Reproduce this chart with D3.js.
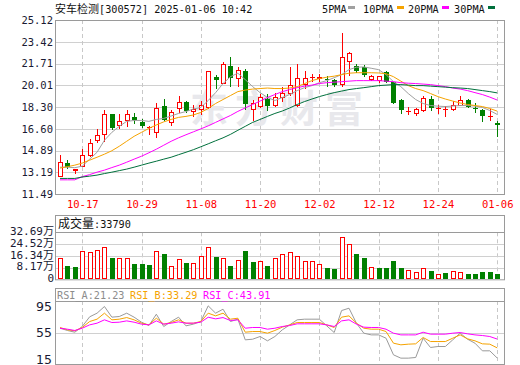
<!DOCTYPE html>
<html><head><meta charset="utf-8">
<script src="https://cdn.jsdelivr.net/npm/d3@7/dist/d3.min.js"></script>
<style>body{margin:0;background:#fff}svg{display:block}</style>
</head><body><svg id="c" width="520" height="365"></svg>
<script>
const dates = ["10-14","10-15","10-16","10-17","10-18","10-21","10-22","10-23","10-24","10-25","10-28","10-29","10-30","10-31",
"11-01","11-04","11-05","11-06","11-07","11-08","11-11","11-12","11-13","11-14","11-15","11-18","11-19","11-20","11-21","11-22","11-25","11-26","11-27","11-28","11-29",
"12-02","12-03","12-04","12-05","12-06","12-09","12-10","12-11","12-12","12-13","12-16","12-17","12-18","12-19","12-20","12-23","12-24","12-25","12-26","12-27","12-30","12-31",
"01-02","01-03","01-06"];
const openP  = [12.92,13.91,13.38,13.69,14.53,15.72,16.22,17.72,16.92,17.28,17.54,17.15,16.72,16.34,18.42,17.15,18.24,18.68,17.98,18.17,18.29,20.66,20.19,21.54,20.58,21.09,18.11,18.37,18.94,18.50,19.07,19.41,18.50,20.11,20.63,20.60,20.52,20.45,20.11,21.93,21.48,21.45,20.50,20.45,21.02,20.24,18.89,17.96,17.80,18.06,18.94,18.22,18.15,18.11,18.45,18.89,18.24,18.06,17.60,17.04];
const highP  = [14.53,14.16,13.46,15.00,15.77,16.55,18.06,17.75,17.72,18.06,17.80,17.35,16.81,18.63,18.94,18.06,19.15,18.81,18.50,18.76,21.10,20.84,21.80,22.26,21.41,21.28,18.89,19.30,19.30,19.41,19.85,21.44,21.67,21.09,20.89,20.89,20.70,20.50,24.08,22.60,21.67,21.60,20.85,20.71,21.15,20.30,18.90,18.32,18.24,19.15,19.15,18.50,18.37,18.76,19.15,18.90,18.58,18.17,18.11,17.20];
const lowP   = [12.90,13.49,13.13,13.65,14.50,15.60,15.64,16.61,16.69,16.81,17.08,16.73,16.22,15.98,17.30,16.86,17.90,17.90,17.59,17.72,18.20,19.80,20.15,19.93,19.93,18.11,17.25,18.30,18.10,18.37,18.81,19.28,18.37,19.80,20.37,20.32,19.93,19.93,19.98,20.84,21.05,20.70,20.40,20.24,20.24,18.58,17.80,17.72,17.67,17.98,18.06,17.80,17.59,18.06,18.45,18.30,17.93,17.20,17.28,16.03];
const closeP = [13.96,13.65,13.44,14.53,15.52,16.09,17.72,16.76,17.18,17.78,17.33,16.89,16.76,18.24,17.33,17.90,18.68,18.06,18.17,18.48,21.09,20.50,21.67,20.66,21.17,18.63,18.58,19.10,18.50,19.10,19.41,20.00,20.58,20.58,20.66,20.63,20.48,20.11,22.22,22.53,21.23,20.90,20.76,20.71,20.37,18.68,18.11,17.98,18.17,19.02,18.32,18.24,18.17,18.50,18.89,18.37,18.19,17.64,17.62,17.00];

const ma5  = [13.59,13.59,13.55,13.67,14.22,14.76,15.70,16.32,16.79,17.18,17.25,17.25,17.18,17.33,17.41,17.60,17.80,17.95,18.15,18.27,18.81,19.43,20.14,20.68,20.95,20.45,19.90,19.43,19.05,18.81,19.05,19.28,19.59,19.82,19.98,20.21,20.37,20.60,20.84,21.23,21.42,21.44,21.34,21.23,20.84,20.29,19.90,19.36,18.89,18.58,18.42,18.37,18.34,18.38,18.42,18.42,18.38,18.27,18.03,17.72];
const ma10 = [13.52,13.63,13.75,13.91,14.14,14.37,14.61,14.88,15.23,15.62,16.01,16.32,16.63,16.90,17.14,17.33,17.49,17.57,17.68,17.88,18.19,18.58,18.89,19.20,19.51,19.63,19.71,19.75,19.79,19.75,19.75,19.79,19.90,20.14,20.37,20.53,20.64,20.72,20.84,20.95,20.99,20.99,20.99,20.97,20.91,20.68,20.33,19.98,19.75,19.59,19.36,19.12,18.93,18.77,18.62,18.50,18.42,18.34,18.19,17.98];
const ma20 = [12.60,12.60,12.60,12.85,13.01,13.20,13.36,13.56,13.75,13.98,14.22,14.45,14.72,15.00,15.31,15.62,15.89,16.13,16.36,16.59,16.83,17.10,17.37,17.64,17.96,18.23,18.50,18.77,19.05,19.28,19.51,19.67,19.82,19.94,20.02,20.14,20.21,20.25,20.29,20.33,20.37,20.37,20.37,20.37,20.33,20.29,20.21,20.17,20.14,20.10,20.06,19.98,19.90,19.79,19.71,19.59,19.43,19.28,19.08,18.85];
const ma30 = [12.71,12.71,12.71,12.82,12.89,12.97,13.09,13.20,13.32,13.44,13.59,13.75,13.91,14.06,14.22,14.37,14.57,14.76,14.96,15.19,15.42,15.66,15.89,16.16,16.48,16.79,17.10,17.33,17.57,17.80,17.99,18.23,18.50,18.73,18.93,19.12,19.28,19.43,19.55,19.67,19.75,19.82,19.90,19.98,20.02,20.06,20.06,20.02,19.98,19.98,19.94,19.90,19.86,19.82,19.79,19.75,19.67,19.59,19.51,19.41];

// volume in 万 (10k shares); 1 = up (red), 0 = down (green)
const volume = [14.6,9.25,8.6,19.5,19.0,20.4,22.3,14.8,15.1,14.8,10.6,10.6,9.9,19.5,17.6,9.0,13.9,11.3,11.3,16.0,22.3,15.5,14.6,9.25,13.2,19.7,12.3,12.7,9.25,14.6,17.6,19.0,16.2,12.7,12.7,10.6,7.9,7.2,29.2,24.5,17.6,14.8,8.3,7.9,7.9,12.7,7.9,6.5,5.1,7.6,5.8,3.5,4.4,5.8,5.1,3.7,3.7,5.1,5.1,3.379];
const volUp  = [1,0,0,1,1,1,1,0,1,1,0,0,0,1,0,1,1,0,1,1,1,0,1,0,1,0,0,1,0,1,1,1,1,1,1,1,0,0,1,1,0,0,1,0,0,0,0,1,1,1,0,1,0,1,1,0,0,0,0,0];

const rsiA = [62.1,58.6,56.0,64.7,79.5,85.1,95.3,79.0,80.0,85.1,79.0,71.3,66.2,83.5,64.7,72.3,79.0,65.7,68.3,72.3,96.3,85.1,91.2,72.3,75.9,44.3,45.3,49.4,42.8,49.4,59.6,67.2,74.9,75.9,75.9,75.9,65.7,55.5,89.1,92.7,69.8,54.5,51.9,51.9,46.8,21.4,16.3,16.3,17.3,46.8,32.6,34.1,34.1,44.3,54.5,45.3,39.2,27.5,27.5,16.5];
const rsiB = [63.2,59.6,58.1,63.2,72.3,75.9,85.1,74.9,75.9,78.4,74.9,69.8,67.2,77.4,68.3,70.8,74.9,69.8,69.8,72.3,85.1,81.0,85.1,75.9,77.4,56.0,57.0,57.0,54.5,58.6,63.7,67.2,70.8,70.8,70.8,70.8,67.2,63.2,79.0,81.0,69.8,62.1,60.6,60.6,57.0,39.2,36.7,37.7,38.2,47.9,41.7,41.7,41.7,46.8,51.9,45.8,42.8,38.2,37.7,32.0];
const rsiC = [62.1,60.6,58.6,62.1,67.2,69.8,74.9,70.8,71.3,73.3,71.3,68.3,67.2,73.3,68.3,69.8,71.8,69.8,69.8,71.3,78.9,76.4,78.4,73.9,74.9,62.1,63.2,63.2,60.6,62.1,64.7,66.2,68.8,68.8,68.8,68.8,67.2,64.7,73.3,74.9,68.3,63.7,63.2,63.2,60.6,54.5,51.9,51.9,51.9,56.0,53.0,53.0,53.0,54.5,55.5,53.5,51.9,50.9,49.4,45.5];

const priceTicks = [11.49,13.19,14.89,16.60,18.30,20.01,21.71,23.42,25.12];
const dateTicks  = ["10-17","10-29","11-08","11-20","12-02","12-12","12-24","01-06"];
const volTicks   = [0,8.17,16.34,24.52,32.69];
const volTickLabels = ["0","8.17万","16.34万","24.52万","32.69万"];
const rsiTicks   = [15,55,95];

const title = {name:"安车检测", rest:"[300572] 2025-01-06 10:42"};
const legend = [{t:"5PMA",c:"#a0a0a0"},{t:"10PMA",c:"#f5a300"},{t:"20PMA",c:"#ff00ff"},{t:"30PMA",c:"#00703c"}];
const volHeader = "成交量:33790";
const rsiHeader = [{t:"RSI_A:21.23",c:"#8c8c8c"},{t:"RSI_B:33.29",c:"#f5a300"},{t:"RSI_C:43.91",c:"#ff00ff"}];

const RED="#ff0000", GREEN="#008000", GRID="#d0d0d0", BORDER="#9a9a9a";
const MONO="'DejaVu Sans Mono','Noto Sans CJK SC',monospace";
const CJK="'Noto Sans CJK SC',sans-serif";

const svg = d3.select("#c");
const L=55, R=505;
const M={t:20,b:194};
const V={top:215,t:232.3,b:279.3};
const S={top:288.3,t:301,b:364};

const x = d3.scalePoint().domain(dates).range([60,497.2]);
const y = d3.scaleLinear().domain([11.49,25.12]).range([M.b,M.t]);
const yv = d3.scaleLinear().domain([0,32.69]).range([V.b,V.t]);
const yr = d3.scaleLinear().domain([15,95]).range([359,306.7]);
const px = d => Math.round(x(d));

// ---------- gridlines ----------
const g = svg.append("g");
g.selectAll(".hg").data(priceTicks.slice(1,-1)).join("line")
  .attr("x1",L).attr("x2",R).attr("y1",d=>Math.round(y(d))+0.5).attr("y2",d=>Math.round(y(d))+0.5)
  .attr("stroke",GRID);
function vgrid(top,bot){
  g.selectAll(null).data(dateTicks).join("line")
    .attr("x1",d=>px(d)+0.5).attr("x2",d=>px(d)+0.5).attr("y1",top).attr("y2",bot)
    .attr("stroke","#c8c8c8").attr("stroke-dasharray","4,3");
}
vgrid(M.t,M.b); vgrid(V.t,V.b); vgrid(S.t,S.b);
g.selectAll(".vh").data(volTicks.slice(1,-1)).join("line")
  .attr("x1",L).attr("x2",R).attr("y1",d=>Math.round(yv(d))+0.5).attr("y2",d=>Math.round(yv(d))+0.5)
  .attr("stroke",GRID);
g.append("line").attr("x1",L).attr("x2",R).attr("y1",Math.round(yr(55))+0.5).attr("y2",Math.round(yr(55))+0.5).attr("stroke",GRID);

// watermark
svg.append("text").attr("x",190).attr("y",122).attr("font-family",CJK).attr("font-weight","bold")
  .attr("font-size",38).attr("letter-spacing",7).attr("fill","#e8e8ec").text("东方财富");

// ---------- candles ----------
const idx = d3.range(dates.length);
const cg = svg.append("g");
idx.forEach(i=>{
  const cx = px(dates[i]);
  const up = closeP[i] >= openP[i];
  const col = up?RED:GREEN;
  cg.append("line").attr("x1",cx+0.5).attr("x2",cx+0.5)
    .attr("y1",Math.round(y(highP[i]))).attr("y2",Math.round(y(lowP[i]))+1).attr("stroke",col);
  const yt = Math.round(y(Math.max(openP[i],closeP[i])));
  const yb = Math.round(y(Math.min(openP[i],closeP[i])));
  if (yb-yt < 1) {
    cg.append("line").attr("x1",cx-2).attr("x2",cx+3).attr("y1",yt+0.5).attr("y2",yt+0.5).attr("stroke",col);
  } else if (up) {
    cg.append("rect").attr("x",cx-2+0.5).attr("y",yt+0.5).attr("width",4).attr("height",yb-yt)
      .attr("fill","#fff").attr("stroke",col);
  } else {
    cg.append("rect").attr("x",cx-2).attr("y",yt).attr("width",5).attr("height",yb-yt+1).attr("fill",col);
  }
});

// ---------- MA lines ----------
const line = d3.line().x((d,i)=>x(dates[i])).y(d=>y(d));
[[ma5,legend[0].c],[ma10,legend[1].c],[ma20,legend[2].c],[ma30,legend[3].c]].forEach(([arr,c])=>{
  svg.append("path").datum(arr).attr("d",line).attr("fill","none").attr("stroke",c).attr("stroke-width",1);
});

// ---------- volume ----------
idx.forEach(i=>{
  const cx = px(dates[i]);
  const top = Math.round(yv(volume[i]));
  const base = Math.round(V.b);
  if (volUp[i]) {
    svg.append("rect").attr("x",cx-2+0.5).attr("y",top+0.5).attr("width",4).attr("height",Math.max(1,base-top-1))
      .attr("fill","#fff").attr("stroke",RED);
  } else {
    svg.append("rect").attr("x",cx-2).attr("y",top).attr("width",5).attr("height",base-top).attr("fill",GREEN);
  }
});

// ---------- RSI ----------
const rline = d3.line().x((d,i)=>x(dates[i])).y(d=>yr(d));
[[rsiA,"#9a9a9a"],[rsiB,"#f5a300"],[rsiC,"#ff00ff"]].forEach(([arr,c])=>{
  svg.append("path").datum(arr).attr("d",rline).attr("fill","none").attr("stroke",c).attr("stroke-width",1);
});

// ---------- frames ----------
const fr = svg.append("g").attr("fill","none").attr("stroke",BORDER);
fr.append("rect").attr("x",L+0.5).attr("y",M.t+0.5).attr("width",R-L-1).attr("height",M.b-M.t);
fr.append("rect").attr("x",L+0.5).attr("y",V.top+0.5).attr("width",R-L-1).attr("height",V.b-V.top);
fr.append("line").attr("x1",L).attr("x2",R).attr("y1",Math.round(V.t)+0.5).attr("y2",Math.round(V.t)+0.5);
fr.append("rect").attr("x",L+0.5).attr("y",Math.round(S.top)+0.5).attr("width",R-L-1).attr("height",S.b-Math.round(S.top));
fr.append("line").attr("x1",L).attr("x2",R).attr("y1",S.t+0.5).attr("y2",S.t+0.5);

// ---------- axes ----------
const ay = svg.append("g").attr("transform",`translate(${L-2},0)`)
  .call(d3.axisLeft(y).tickValues(priceTicks).tickSize(0).tickPadding(0).tickFormat(d=>d.toFixed(2)));
ay.select(".domain").remove();
ay.selectAll("text").attr("font-family",MONO).attr("font-size",10.5).attr("fill","#1a1a33");

const ax = svg.append("g").attr("transform",`translate(0,${M.b+5})`)
  .call(d3.axisBottom(x).tickValues(dateTicks).tickSize(0).tickPadding(0));
ax.select(".domain").remove();
ax.selectAll("text").attr("font-family",MONO).attr("font-size",10.5).attr("fill",RED).attr("dy","0.9em");

const av = svg.append("g").attr("transform",`translate(${L-1},0)`)
  .call(d3.axisLeft(yv).tickValues(volTicks).tickSize(0).tickPadding(0).tickFormat((d,i)=>volTickLabels[i]));
av.select(".domain").remove();
av.selectAll("text").attr("font-family",MONO).attr("font-size",11).attr("fill","#1a1a33").attr("dy","0.2em");

const ar = svg.append("g").attr("transform",`translate(${L-3},0)`)
  .call(d3.axisLeft(yr).tickValues(rsiTicks).tickSize(0).tickPadding(0));
ar.select(".domain").remove();
ar.selectAll("text").attr("font-family","'DejaVu Sans',sans-serif").attr("font-size",12.5).attr("fill","#1a1a33");

// ---------- title / legend ----------
const tt = svg.append("text").attr("x",L).attr("y",13).attr("fill","#111");
tt.append("tspan").attr("font-family",CJK).attr("font-size",11).text(title.name);
tt.append("tspan").attr("font-family",MONO).attr("font-size",10.2).text(title.rest);

const legX=[322,363,408,454], boxX=[348,397,442,488];
legend.forEach((d,i)=>{
  svg.append("text").attr("x",legX[i]).attr("y",12.5).attr("font-family",MONO).attr("font-size",10.2).attr("fill","#111").text(d.t);
  svg.append("rect").attr("x",boxX[i]).attr("y",6).attr("width",7).attr("height",3).attr("fill",d.c);
});

svg.append("text").attr("x",58).attr("y",228).attr("fill","#111")
  .call(t=>{t.append("tspan").attr("font-family",CJK).attr("font-size",12).text(volHeader.slice(0,3));
            t.append("tspan").attr("font-family",MONO).attr("font-size",10.2).text(volHeader.slice(3));});

const rhX=[57,130,203];
rsiHeader.forEach((d,i)=>{
  svg.append("text").attr("x",rhX[i]).attr("y",299).attr("font-family",MONO).attr("font-size",10.2).attr("fill",d.c).text(d.t);
});
</script></body></html>
